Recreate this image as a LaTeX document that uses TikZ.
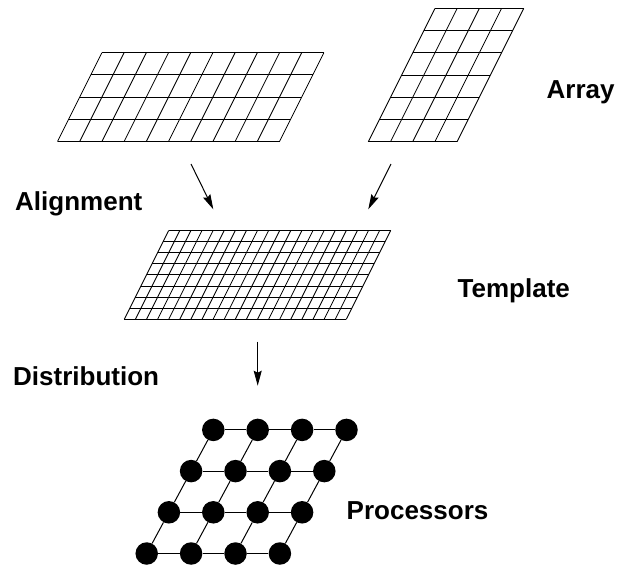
\documentclass[tikz,border=0pt]{standalone}
\usepackage{fontspec}
\setmainfont{Liberation Sans}
\usetikzlibrary{arrows.meta}
\newcommand\shgrid[5]{% x0, y0 (bottom-left), cols, rows, cell size
  \foreach \r in {0,...,#4}
    \draw[gridline] ({#1+0.5*\r*#5},{#2-\r*#5}) -- ({#1+#3*#5+0.5*\r*#5},{#2-\r*#5});
  \foreach \c in {0,...,#3}
    \draw[gridline] ({#1+\c*#5},{#2}) -- ({#1+\c*#5+0.5*#4*#5},{#2-#4*#5});
}
\begin{document}
\begin{tikzpicture}[x=1pt,y=-1pt,
  gridline/.style={line width=0.85pt,black},
  lbl/.style={anchor=base west,inner sep=0pt,font=\fontsize{26}{30}\selectfont\bfseries},
  proc/.style={circle,fill=black,inner sep=0pt,minimum size=22.5pt},
  link/.style={line width=1pt},
  arr/.style={line width=1pt,-{Stealth[length=15pt,width=8pt,inset=2pt]}}]
\useasboundingbox (0,0) rectangle (619,579);

% arrays
\shgrid{57.5}{141.5}{10}{4}{22.2}
\shgrid{368.3}{141.7}{4}{6}{22.2}
% template
\shgrid{124.3}{319.3}{20}{8}{11.1}

% processors
\foreach \r in {0,...,3}
  \foreach \c in {0,...,3}
    \node[proc] (p-\r-\c) at ({146.7+\c*44.4+\r*22.2},{553.5-\r*41.2}) {};
\foreach \r in {0,...,3}
  \foreach \c/\d in {0/1,1/2,2/3}
    \draw[link] (p-\r-\c) -- (p-\r-\d);
\foreach \r/\s in {0/1,1/2,2/3}
  \foreach \c in {0,...,3}
    \draw[link] (p-\r-\c) -- (p-\s-\c);

% arrows
\coordinate (a1s) at (191,164);
\coordinate (a1e) at (213.3,209.3);
\coordinate (a2s) at (391,164);
\coordinate (a2e) at (368.3,209.3);
\coordinate (a3s) at (257.7,341.7);
\coordinate (a3e) at (257.7,385.7);
\draw[arr] (a1s) -- (a1e);
\draw[arr] (a2s) -- (a2e);
\draw[arr] (a3s) -- (a3e);

% labels
\node[lbl] (array) at (546.5,98.3) {Array};
\node[lbl] (align) at (15,210) {Alignment};
\node[lbl] (templ) at (457.5,297.3) {Template};
\node[lbl] (distr) at (13,385.7) {Distribution};
\node[lbl] (procs) at (346.5,519.3) {Processors};
\end{tikzpicture}
\end{document}
